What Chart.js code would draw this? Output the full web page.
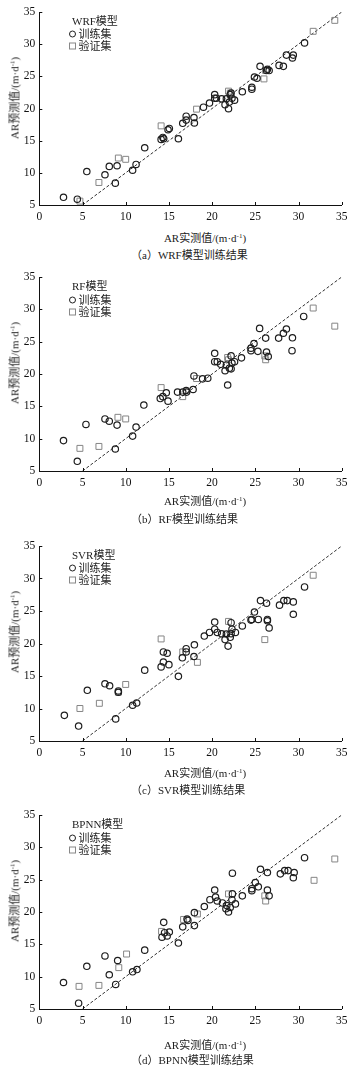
<!DOCTYPE html>
<html><head><meta charset="utf-8">
<script src="https://cdn.jsdelivr.net/npm/chart.js@4.4.1/dist/chart.umd.min.js"></script>
<style>
html,body{margin:0;padding:0;background:#fff;}
#wrap{position:relative;width:356px;height:1071px;overflow:hidden;background:#fff;font-family:'Liberation Serif','Noto Sans CJK SC',serif;color:#222;}
canvas{position:absolute;left:0;}
.t{position:absolute;white-space:nowrap;font-size:11px;line-height:13px;}
.c{transform:translate(-50%,-50%);}
.yt{transform:translate(-50%,-50%) rotate(-90deg);}
.l{transform:translateY(-50%);}
sup{font-size:7px;line-height:0;vertical-align:4px;}
.mk{display:inline-block;width:5px;height:5px;margin-right:3px;vertical-align:0px;box-sizing:content-box;}
.mc{border:1.2px solid #1e1e1e;border-radius:50%;}
.ms{border:1px solid #888;}
</style>
</head><body>
<div id="wrap"></div>
<script>
// ---- data ----
const modelNames = ['WRF', 'RF', 'SVR', 'BPNN'];
const panelLetters = ['a', 'b', 'c', 'd'];
const trainLabel = '训练集';
const validLabel = '验证集';
const xTicks = [0, 5, 10, 15, 20, 25, 30, 35];
const yTicks = [5, 10, 15, 20, 25, 30, 35];
const refLine = [5, 35];

const aTrainX = [2.8,4.4,5.5,7.6,8.1,9.0,8.8,10.8,11.2,12.2,14.1,14.3,14.4,14.9,15.05,16.1,16.6,17.0,17.0,17.9,17.95,19.0,19.7,20.3,20.3,20.5,21.1,21.5,21.65,21.9,22.0,22.1,22.2,22.3,22.6,23.5,24.6,24.6,24.9,25.2,25.55,26.3,26.4,26.6,27.75,28.25,28.6,29.3,29.4,30.7];
const aTrainY = [6.2,5.9,10.2,9.7,11.0,11.1,8.4,10.4,11.3,13.9,15.2,15.5,15.3,16.7,16.9,15.3,17.7,18.8,18.2,18.6,17.75,20.2,20.85,22.15,21.6,21.6,21.5,20.6,21.5,19.97,21.0,22.15,22.4,21.6,21.3,22.6,23.3,23.0,24.9,24.7,26.55,25.9,26.1,25.9,26.7,26.55,28.3,27.85,28.3,30.2];
const aValidX = [4.7,6.9,9.15,10.0,14.1,18.2,21.9,22.1,26.0,26.2,31.7,34.2];
const aValidY = [5.6,8.5,12.3,12.1,17.3,19.9,22.7,22.4,24.6,25.9,32.0,33.7];

const bTrainX = [2.8,4.4,5.4,7.6,8.1,9.0,8.8,10.8,11.2,12.1,14.0,14.3,14.7,14.9,16.0,16.6,17.0,17.05,17.9,17.8,18.9,19.5,20.3,20.3,20.6,21.0,21.5,21.65,21.8,22.0,22.2,22.2,22.3,22.6,23.4,24.5,24.5,24.85,25.3,25.5,26.2,26.3,26.5,27.7,28.25,28.6,29.25,29.3,30.6];
const bTrainY = [9.7,6.5,12.2,13.05,12.7,12.1,8.4,10.4,11.8,15.2,16.2,16.5,17.1,15.8,17.2,17.2,17.45,17.2,19.7,17.6,19.25,19.35,23.2,21.9,21.9,21.5,20.5,21.4,18.3,20.9,22.8,20.8,21.7,21.9,22.5,23.6,24.0,24.7,23.5,27.05,25.55,23.4,22.7,25.55,26.3,26.95,23.6,25.6,28.9];
const bValidX = [4.7,6.9,9.1,10.0,14.1,16.6,18.2,21.8,21.9,26.1,26.2,31.7,34.2];
const bValidY = [8.5,8.8,13.3,13.05,17.9,16.5,19.3,22.55,22.2,22.8,22.2,30.2,27.4];

const cTrainX = [2.9,4.55,5.56,7.6,8.14,9.15,9.15,8.84,10.8,11.27,12.2,14.1,14.36,14.36,14.8,15.0,16.1,16.56,17.0,17.0,17.95,17.9,19.1,19.7,20.3,20.3,20.6,21.1,21.5,21.65,21.85,22.1,22.2,22.2,22.3,22.7,23.5,24.5,24.6,24.9,25.35,25.6,26.3,26.4,26.4,26.6,27.8,28.3,28.7,29.4,29.4,30.7];
const cTrainY = [8.95,7.3,12.8,13.8,13.5,12.7,12.5,8.4,10.5,10.85,15.9,16.4,18.7,17.15,18.5,16.75,14.95,17.8,19.2,18.7,19.8,18.0,21.15,21.7,23.3,22.2,21.7,21.5,20.6,21.45,19.6,20.95,23.2,21.5,22.2,21.7,22.7,23.6,23.7,24.85,23.7,26.6,26.2,23.7,23.5,22.4,25.9,26.6,26.6,24.5,26.4,28.7];
const cValidX = [4.7,6.95,9.15,10.0,14.1,16.6,18.3,21.9,26.1,31.7];
const cValidY = [10.0,10.8,12.5,13.7,20.7,18.7,17.1,23.4,20.6,30.5];

const dTrainX = [2.8,4.55,5.5,7.6,8.1,9.07,8.84,10.8,11.3,12.2,14.2,14.4,14.5,14.8,15.05,16.1,16.6,17.1,17.2,17.95,17.95,19.1,19.75,20.3,20.4,20.6,21.2,21.6,21.7,21.9,22.1,22.35,22.35,22.3,22.7,23.5,24.6,24.6,25.0,25.35,25.6,26.4,26.4,26.6,27.9,28.4,28.8,29.4,29.5,30.7];
const dTrainY = [9.1,5.9,11.6,13.2,10.3,12.5,8.8,10.75,11.1,14.1,16.1,18.4,16.8,16.3,16.9,15.2,17.7,18.9,18.7,19.9,17.9,20.85,21.9,23.4,22.3,21.7,21.4,20.5,21.0,20.0,20.7,26.0,22.8,21.9,21.25,22.5,23.6,23.3,24.55,23.9,26.6,26.1,23.4,22.5,25.9,26.4,26.4,25.3,26.1,28.4];
const dValidX = [4.6,6.9,9.2,10.1,14.15,16.7,18.3,21.9,26.1,26.2,31.8,34.2];
const dValidY = [8.5,8.65,11.4,13.5,17.0,18.85,19.7,22.8,22.5,21.7,24.9,28.2];

const trainXs = [aTrainX, bTrainX, cTrainX, dTrainX];
const trainYs = [aTrainY, bTrainY, cTrainY, dTrainY];
const validXs = [aValidX, bValidX, cValidX, dValidX];
const validYs = [aValidY, bValidY, cValidY, dValidY];

// ---- layout ----
const plotTops = [11.7, 277.3, 545.7, 815];
const plotHs = [193, 193.7, 195, 194.3];
const xTitleOff = [33.6, 30, 32.6, 36];
const capOff = [50.5, 47.5, 49.5, 51];
const PAD_TOP = 12, Y_W = 39.3, X_H = 25, PAD_R = 14.3;
const FONT = "'Liberation Serif', 'Noto Sans CJK SC', serif";

const innerTicks = {
  id: 'innerTicks',
  afterDraw(chart) {
    const {ctx, scales: {x, y}, chartArea: a} = chart;
    ctx.save();
    ctx.strokeStyle = '#111';
    ctx.lineWidth = 1;
    ctx.beginPath();
    x.ticks.forEach(t => { const px = Math.round(x.getPixelForValue(t.value)) + 0.5; ctx.moveTo(px, a.bottom); ctx.lineTo(px, a.bottom - 3); });
    y.ticks.forEach(t => { const py = Math.round(y.getPixelForValue(t.value)) + 0.5; ctx.moveTo(a.left, py); ctx.lineTo(a.left + 3, py); });
    ctx.stroke();
    ctx.restore();
  }
};

const wrap = document.getElementById('wrap');
const toPts = (xs, ys) => xs.map((v, i) => ({x: v, y: ys[i]}));

function addText(cls, html, left, top) {
  const d = document.createElement('div');
  d.className = 't ' + cls;
  d.innerHTML = html;
  d.style.left = left + 'px';
  d.style.top = top + 'px';
  wrap.appendChild(d);
  return d;
}

for (let i = 0; i < 4; i++) {
  const cv = document.createElement('canvas');
  const h = Math.round(PAD_TOP + plotHs[i] + X_H);
  cv.width = 356; cv.height = h;
  cv.style.width = '356px'; cv.style.height = h + 'px';
  cv.style.top = (plotTops[i] - PAD_TOP) + 'px';
  wrap.appendChild(cv);

  new Chart(cv, {
    type: 'scatter',
    data: {
      datasets: [
        {label: trainLabel, data: toPts(trainXs[i], trainYs[i]), pointStyle: 'circle', pointRadius: 3.2,
         borderColor: '#1e1e1e', borderWidth: 1.2, backgroundColor: 'rgba(0,0,0,0)'},
        {label: validLabel, data: toPts(validXs[i], validYs[i]), pointStyle: 'rect', pointRadius: 4.2,
         borderColor: '#858585', borderWidth: 1, backgroundColor: 'rgba(0,0,0,0)'},
        {type: 'line', label: '1:1', data: toPts(refLine, refLine), showLine: true, borderColor: '#333',
         borderWidth: 1, borderDash: [3, 2], pointRadius: 0, fill: false}
      ]
    },
    options: {
      responsive: false, animation: false, devicePixelRatio: 1,
      layout: {padding: {top: PAD_TOP, right: PAD_R, bottom: 0, left: 0}},
      plugins: {legend: {display: false}, tooltip: {enabled: false}},
      scales: {
        x: {
          type: 'linear', min: xTicks[0], max: xTicks[xTicks.length - 1],
          afterBuildTicks(s) { s.ticks = xTicks.map(v => ({value: v})); },
          ticks: {padding: 5, color: '#111', font: {family: FONT, size: 11.5}},
          grid: {display: false, drawTicks: false},
          border: {display: true, color: '#111', width: 1},
          afterFit(s) { s.height = X_H; }
        },
        y: {
          type: 'linear', min: yTicks[0], max: yTicks[yTicks.length - 1],
          afterBuildTicks(s) { s.ticks = yTicks.map(v => ({value: v})); },
          ticks: {padding: 4, color: '#111', font: {family: FONT, size: 11.5}},
          grid: {display: false, drawTicks: false},
          border: {display: true, color: '#111', width: 1},
          afterFit(s) { s.width = Y_W; }
        }
      }
    },
    plugins: [innerTicks]
  });

  const pt = plotTops[i], ph = plotHs[i];
  addText('yt', 'AR预测值/(m·d<sup>-1</sup>)', 15, pt + 86);
  addText('c', 'AR实测值/(m·d<sup>-1</sup>)', 205, pt + ph + xTitleOff[i]);
  addText('l', '（' + panelLetters[i] + '）' + modelNames[i] + '模型训练结果', 131, pt + ph + capOff[i]);
  addText('l', modelNames[i] + '模型', 72, pt + 9);
  addText('l', '<span class="mk mc"></span>' + trainLabel, 68.5, pt + 22.5);
  addText('l', '<span class="mk ms"></span>' + validLabel, 68.5, pt + 34.5);
}
</script>
</body></html>
